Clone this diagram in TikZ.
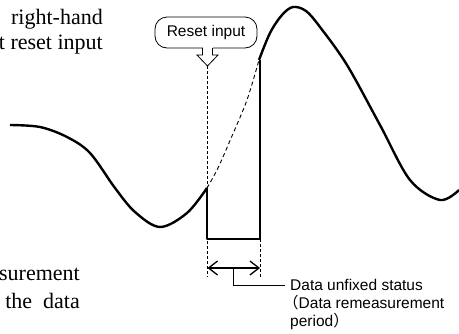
\documentclass[tikz,border=0pt]{standalone}
\usepackage{fontspec}
\setmainfont{Liberation Serif}
\setsansfont{Liberation Sans}
\newfontfamily\cjkfont{Noto Sans CJK JP}
\usetikzlibrary{arrows.meta, positioning, calc}
\tikzset{
  signal/.style={line width=2.4pt, line join=round},
  guide/.style={line width=0.7pt, dash pattern=on 3pt off 2pt},
  ghost/.style={line width=0.9pt, dash pattern=on 4pt off 3pt},
  span/.style={line width=1.3pt, {Straight Barb[length=9pt,width=14pt]}-{Straight Barb[length=9pt,width=14pt]}},
  bodytext/.style={font=\fontsize{22}{26}\selectfont, inner sep=0pt},
  labeltext/.style={font=\sffamily\fontsize{15.5}{18}\selectfont, inner sep=0pt}
}

\begin{document}
\begin{tikzpicture}[x=1pt, y=-1pt]
\useasboundingbox (0,0) rectangle (459,333);

% running text cut at the left edge
\node[bodytext, anchor=base east] (txtA) at (103,24) {right-hand};
\node[bodytext, anchor=base east] (txtB) at (103,49) {t reset input};
\node[bodytext, anchor=base east] (txtC) at (80,280) {surement};
\node[bodytext, anchor=base east] (txtD) at (80,308) {the\ \ data};

% measured signal
\draw[signal] plot[smooth, tension=0.55] coordinates {(10,125) (40,127) (67,137) (90,153) (115,188) (135,212) (160,227) (187,213) (207,188)};
\draw[ghost] plot[smooth, tension=0.5] coordinates {(207,188) (218,168) (232,136) (247,100) (259,60)};
\draw[signal] plot[smooth, tension=0.55] coordinates {(259,60) (270,33) (282,15) (293,7) (306,11) (320,27) (347,65) (380,125) (410,180) (440,200) (459,190)};

% unfixed window
\coordinate (rA) at (207,188);
\coordinate (rB) at (207,239);
\coordinate (rC) at (260,239);
\coordinate (rD) at (260,60);
\draw[signal] (rA) -- (rB) -- (rC) -- (rD);

% reset input marker
\node[draw, line width=0.8pt, rounded corners=12pt, minimum width=102pt, minimum height=31pt, inner sep=0pt, font=\sffamily\fontsize{15.5}{18}\selectfont] (reset) at (206,32.5) {Reset input};
\fill[white] (202.5,46) rectangle (212.5,50);
\draw[line width=0.8pt, line join=miter] (202.5,48) -- (202.5,55) -- (197,55) -- (207.5,66) -- (218,55) -- (212.5,55) -- (212.5,48);
\coordinate (tip) at (207.5,66);

% guide lines
\coordinate (gA) at (207.5,277);
\coordinate (gB) at (260,277);
\draw[guide] (tip) -- (gA);
\draw[guide] (rC) -- (gB);

% period arrow and its label
\coordinate (pL) at (207.5,268);
\coordinate (pR) at (260,268);
\draw[span] (pL) -- (pR);
\coordinate (lead) at (233,268);
\node[labeltext, anchor=base west] (statusA) at (290,290) {Data unfixed status};
\node[labeltext, anchor=base west] (statusB) at (283,308) {{\cjkfont （}Data remeasurement};
\node[labeltext, anchor=base west] (statusC) at (290,326) {period{\cjkfont ）}};
\draw[line width=0.8pt] (lead) |- ($(statusA.base west)+(-5,-5)$);
\end{tikzpicture}
\end{document}
